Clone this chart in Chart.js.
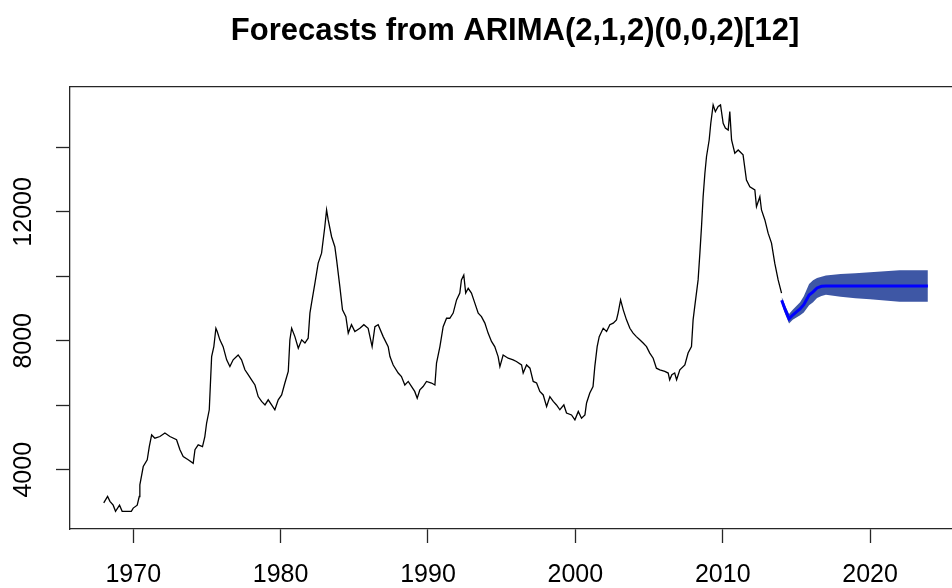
<!DOCTYPE html>
<html>
<head>
<meta charset="utf-8">
<script src="https://cdn.jsdelivr.net/npm/chart.js@4.4.0/dist/chart.umd.min.js"></script>
<style>
  html, body { margin: 0; padding: 0; background: #fff; overflow: hidden; }
  #wrap { width: 970px; height: 588px; }
</style>
</head>
<body>
<div id="wrap"><canvas id="graf" width="970" height="588"></canvas></div>
<script>
// observed series
const obsYears = [
  1968.00, 1968.26, 1968.42, 1968.64, 1968.80, 1969.07, 1969.25, 1969.87, 1970.00, 1970.27,
  1970.41, 1970.45, 1970.68, 1970.95, 1971.09, 1971.25, 1971.47, 1971.81, 1972.15, 1972.49,
  1972.94, 1973.17, 1973.39, 1973.73, 1974.07, 1974.19, 1974.41, 1974.70, 1974.86, 1974.98,
  1975.16, 1975.25, 1975.32, 1975.47, 1975.61, 1975.70, 1975.88, 1976.10, 1976.34, 1976.56,
  1976.78, 1977.12, 1977.35, 1977.58, 1977.80, 1978.03, 1978.26, 1978.48, 1978.71, 1978.94,
  1979.16, 1979.39, 1979.61, 1979.84, 1980.07, 1980.29, 1980.52, 1980.63, 1980.75, 1980.97,
  1981.20, 1981.43, 1981.65, 1981.87, 1981.99, 1982.10, 1982.33, 1982.55, 1982.78, 1983.00,
  1983.12, 1983.23, 1983.46, 1983.68, 1983.80, 1984.02, 1984.20, 1984.43, 1984.59, 1984.81,
  1985.04, 1985.38, 1985.65, 1985.94, 1986.21, 1986.40, 1986.62, 1986.96, 1987.30, 1987.42,
  1987.64, 1987.98, 1988.20, 1988.43, 1988.66, 1988.89, 1989.10, 1989.27, 1989.45, 1989.67,
  1989.90, 1990.24, 1990.47, 1990.58, 1990.81, 1991.03, 1991.26, 1991.48, 1991.71, 1991.94,
  1992.16, 1992.27, 1992.43, 1992.56, 1992.73, 1992.95, 1993.18, 1993.41, 1993.63, 1993.86,
  1994.08, 1994.31, 1994.53, 1994.76, 1994.88, 1995.10, 1995.44, 1995.78, 1996.00, 1996.35,
  1996.46, 1996.69, 1996.92, 1997.14, 1997.37, 1997.59, 1997.82, 1998.05, 1998.27, 1998.50,
  1998.72, 1998.95, 1999.22, 1999.40, 1999.74, 1999.97, 2000.20, 2000.42, 2000.65, 2000.76,
  2000.98, 2001.20, 2001.32, 2001.48, 2001.62, 2001.89, 2002.12, 2002.34, 2002.57, 2002.79,
  2002.90, 2003.07, 2003.25, 2003.47, 2003.70, 2003.92, 2004.14, 2004.37, 2004.60, 2004.83,
  2005.05, 2005.28, 2005.50, 2005.73, 2006.07, 2006.30, 2006.40, 2006.55, 2006.74, 2006.87,
  2007.09, 2007.43, 2007.65, 2007.88, 2007.99, 2008.10, 2008.33, 2008.45, 2008.56, 2008.67,
  2008.79, 2008.90, 2009.08, 2009.19, 2009.35, 2009.50, 2009.69, 2009.85, 2010.03, 2010.18,
  2010.37, 2010.48, 2010.60, 2010.82, 2011.05, 2011.38, 2011.61, 2011.84, 2012.18, 2012.29,
  2012.52, 2012.63, 2012.86, 2013.08, 2013.31, 2013.53, 2013.76, 2013.99
];
const obsValues = [
  2970, 3170, 3020, 2900, 2710, 2900, 2710, 2710, 2810, 2900,
  3170, 3530, 4100, 4310, 4720, 5080, 4980, 5030, 5140, 5030,
  4930, 4620, 4410, 4310, 4200, 4620, 4770, 4720, 5030, 5450,
  5860, 6790, 7510, 7820, 8390, 8290, 8030, 7820, 7410, 7200,
  7410, 7560, 7410, 7100, 6950, 6790, 6630, 6270, 6120, 6010,
  6170, 6010, 5860, 6170, 6320, 6690, 7050, 8030, 8390, 8130,
  7770, 8030, 7930, 8080, 8860, 9170, 9790, 10410, 10720, 11540,
  12060, 11750, 11230, 10920, 10510, 9680, 8960, 8750, 8240, 8500,
  8290, 8390, 8500, 8390, 7820, 8440, 8500, 8130, 7820, 7510,
  7250, 7000, 6890, 6630, 6740, 6580, 6430, 6220, 6480, 6580,
  6740, 6690, 6630, 7310, 7820, 8440, 8700, 8700, 8860, 9270,
  9480, 9890, 10040, 9480, 9630, 9480, 9170, 8860, 8750, 8550,
  8240, 7980, 7820, 7510, 7200, 7560, 7460, 7410, 7360, 7250,
  7000, 7250, 7150, 6740, 6690, 6430, 6320, 5960, 6270, 6120,
  6010, 5860, 6010, 5760, 5700, 5550, 5810, 5600, 5700, 6070,
  6380, 6580, 7200, 7820, 8130, 8390, 8290, 8500, 8550, 8650,
  8860, 9270, 8960, 8650, 8390, 8240, 8130, 8030, 7930, 7820,
  7620, 7460, 7150, 7100, 7050, 7000, 6790, 6950, 7000, 6790,
  7100, 7250, 7620, 7820, 8650, 9060, 9890, 10720, 11540, 12470,
  13200, 13720, 14230, 14750, 15320, 15110, 15270, 15320, 14750, 14600,
  14540, 15110, 14230, 13820, 13920, 13770, 12990, 12780, 12680, 12160,
  12470, 12060, 11750, 11340, 11030, 10410, 9890, 9480
];

// forecast + interval
const fcYears = [2014.0, 2014.25, 2014.5, 2014.75, 2015.0, 2015.25, 2015.5, 2015.86, 2016.13, 2016.4, 2016.7, 2017.0, 2018.0, 2019.0, 2020.0, 2021.0, 2022.0, 2023.92];
const fcMean  = [9260, 8950, 8680, 8800, 8900, 8990, 9120, 9420, 9520, 9640, 9690, 9700, 9700, 9700, 9700, 9700, 9700, 9700];
const fcUpper = [9370, 9080, 8830, 8960, 9080, 9200, 9380, 9760, 9880, 9950, 9990, 10030, 10070, 10100, 10130, 10160, 10190, 10190];
const fcLower = [9150, 8820, 8540, 8650, 8720, 8790, 8880, 9100, 9200, 9330, 9390, 9430, 9370, 9320, 9290, 9250, 9210, 9210];

const xTicks = [1970, 1980, 1990, 2000, 2010, 2020];
const yTicks = [4000, 6000, 8000, 10000, 12000, 14000];
const yShown = [4000, 8000, 12000];
const chartTitle = "Forecasts from ARIMA(2,1,2)(0,0,2)[12]";

function pairs(xs, ys) {
    return xs.map((x, i) => ({ x: x, y: ys[i] }));
}

const axisColor = "#262626";
const tickFont = { family: "Liberation Sans", size: 25 };

let graf = document.getElementById("graf");

const config = {
    type: "line",
    data: {
        datasets: [{
            label: "Forecast",
            data: pairs(fcYears, fcMean),
            borderColor: "#0000ff",
            borderWidth: 3,
            pointRadius: 0,
            fill: false
        }, {
            label: "Observed",
            data: pairs(obsYears, obsValues),
            borderColor: "#000000",
            borderWidth: 1.3,
            pointRadius: 0,
            fill: false
        }, {
            label: "Lower",
            data: pairs(fcYears, fcLower),
            borderColor: "transparent",
            borderWidth: 0,
            pointRadius: 0,
            fill: false
        }, {
            label: "Upper",
            data: pairs(fcYears, fcUpper),
            borderColor: "transparent",
            borderWidth: 0,
            pointRadius: 0,
            backgroundColor: "rgb(62,87,165)",
            fill: "-1"
        }]
    },
    options: {
        responsive: false,
        animation: false,
        devicePixelRatio: 1,
        layout: { padding: { left: 0, right: 10, top: 0, bottom: 0 } },
        plugins: {
            legend: { display: false },
            tooltip: { enabled: false },
            title: {
                display: true,
                text: chartTitle,
                fullSize: false,
                color: "#000",
                font: { family: "Liberation Sans", size: 31, weight: "bold" },
                padding: { top: 13, bottom: 36 }
            }
        },
        scales: {
            x: {
                type: "linear",
                position: "bottom",
                min: 1965.71,
                max: 2026.1,
                afterBuildTicks: (s) => { s.ticks = xTicks.map(v => ({ value: v })); },
                afterFit: (s) => { s.height = 59; },
                ticks: {
                    autoSkip: false,
                    maxRotation: 0,
                    padding: 17,
                    color: "#000",
                    font: tickFont,
                    callback: (v) => String(v)
                },
                grid: { drawOnChartArea: false, tickLength: 14, tickColor: axisColor, tickWidth: 1.3 },
                border: { display: true, color: axisColor, width: 1.3 }
            },
            xTop: {
                type: "linear",
                position: "top",
                min: 1965.71,
                max: 2026.1,
                afterFit: (s) => { s.height = 0; },
                ticks: { display: false },
                grid: { drawOnChartArea: false, drawTicks: false },
                border: { display: true, color: axisColor, width: 1.3 }
            },
            y: {
                type: "linear",
                position: "left",
                min: 2161,
                max: 15900,
                afterBuildTicks: (s) => { s.ticks = yTicks.map(v => ({ value: v })); },
                afterFit: (s) => { s.width = 70; },
                ticks: {
                    autoSkip: false,
                    minRotation: 90,
                    maxRotation: 90,
                    crossAlign: "center",
                    padding: -3,
                    color: "#000",
                    font: tickFont,
                    callback: (v) => yShown.includes(v) ? String(v) : ""
                },
                grid: { drawOnChartArea: false, tickLength: 14, tickColor: axisColor, tickWidth: 1.3 },
                border: { display: true, color: axisColor, width: 1.3 }
            }
        }
    }
};

let mero = new Chart(graf, config);
</script>
</body>
</html>
